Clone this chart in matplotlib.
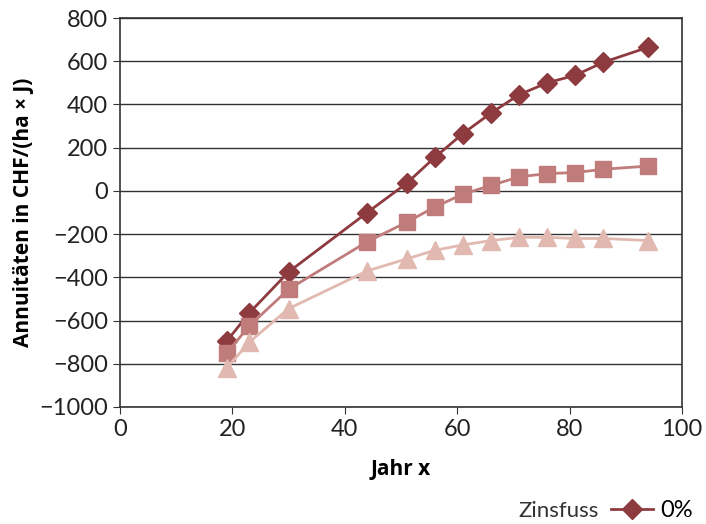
import numpy as np
import matplotlib.pyplot as plt
from matplotlib.lines import Line2D

# Daten
jahr = [19, 23, 30, 44, 51, 56, 61, 66, 71, 76, 81, 86, 94]
zins_0 = [-695, -565, -375, -100, 35, 155, 265, 360, 445, 500, 535, 595, 665]
zins_1 = [-750, -625, -455, -235, -145, -75, -15, 25, 65, 80, 85, 100, 115]
zins_2 = [-820, -700, -545, -370, -315, -275, -250, -230, -215, -215, -220, -220, -230]
labels = ['0%', '1%', '2%']
farben = ['#8e3b40', '#c07b7b', '#e2b9b1']
marker = ['D', 's', '^']
groesse = [10, 12, 13]

plt.rcParams['font.family'] = ['Lato', 'DejaVu Sans']

fig = plt.figure(figsize=(7.06, 5.24), dpi=100)
ax = fig.add_axes([0.17, 0.2233, 0.796, 0.7423])

serien = [zins_0, zins_1, zins_2]
for werte, lab, c, m, g in zip(serien, labels, farben, marker, groesse):
    ax.plot(jahr, werte, color=c, marker=m, markersize=g,
            linewidth=2, label=lab, zorder=3)

ax.set_xlim(0, 100)
ax.set_ylim(-1000, 800)
ax.set_xticks(np.arange(0, 101, 20))
ax.set_yticks(np.arange(-1000, 801, 200))
ax.yaxis.grid(True, color='#333333', linewidth=1)
ax.tick_params(labelsize=17, direction='out', length=5, color='#333333', labelcolor='#222222')
for s in ax.spines.values():
    s.set_color('#333333')
    s.set_linewidth(1.2)

ax.set_xlabel('Jahr x', fontsize=15, fontweight='bold', family='Open Sans', labelpad=14)
ax.set_ylabel('Annuitäten in CHF/(ha × J)', fontsize=15, fontweight='bold',
              family='Open Sans', labelpad=4)

# Legende (nur erster Eintrag sichtbar)
fig.text(0.735, 0.025, 'Zinsfuss', fontsize=16, va='center', color='#333333')
h = Line2D([], [], color=farben[0], marker='D', markersize=10, linewidth=2)
fig.legend([h], ['0%'], loc='center right', bbox_to_anchor=(0.995, 0.025), frameon=False,
           borderaxespad=0, handlelength=1.8, handletextpad=0.3,
           prop={'family': 'Lato', 'size': 17})

plt.savefig('out.png', dpi=100)
